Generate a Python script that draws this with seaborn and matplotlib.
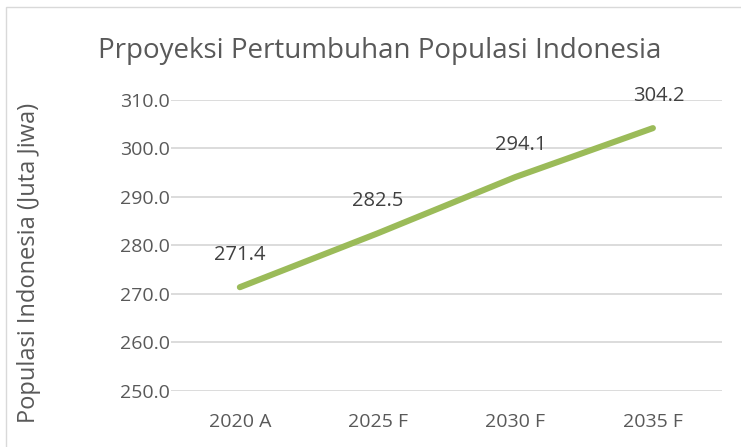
import matplotlib
matplotlib.use('Agg')
import matplotlib.pyplot as plt
import seaborn as sns
import pandas as pd
from matplotlib.patches import Rectangle

tahun = ['2020 A', '2025 F', '2030 F', '2035 F']
populasi = [271.4, 282.5, 294.1, 304.2]
y_ticks = [250, 260, 270, 280, 290, 300, 310]

df = pd.DataFrame({'Tahun': tahun, 'Populasi': populasi})

sns.set_theme(style='white')
plt.rcParams['font.family'] = ['Open Sans', 'DejaVu Sans']
abu = '#595959'

fig = plt.figure(figsize=(7.41, 4.47), dpi=100)
ax = fig.add_axes([0.2308, 0.1253, 0.7432, 0.651])

# bingkai chart ala Excel
fig.patches.append(Rectangle((6 / 741, -0.01), 1, 1 - 7 / 447 + 0.01, transform=fig.transFigure,
                             fill=False, edgecolor='#D9D9D9', linewidth=1))

sns.lineplot(data=df, x='Tahun', y='Populasi', ax=ax, color='#9BBB59', linewidth=4.4,
             solid_capstyle='round', sort=False)

for i, v in enumerate(populasi):
    ax.annotate(f'{v:.1f}', (i, v), xytext=(4 if i > 1 else 0, 23), textcoords='offset points',
                ha='center', va='center', fontsize=14.5, color='#404040')

ax.set_xlim(-0.5, 3.5)
ax.set_ylim(250, 310)
ax.set_yticks(y_ticks)
ax.set_yticklabels([f'{t:.1f}' for t in y_ticks])
ax.yaxis.grid(True, color='#D9D9D9', linewidth=1.3)
ax.set_axisbelow(True)
for s in ax.spines.values():
    s.set_visible(False)
ax.tick_params(axis='both', length=0, labelsize=14, labelcolor=abu)
ax.tick_params(axis='x', pad=16)
ax.tick_params(axis='y', pad=1)
ax.set_xlabel('')
ax.set_ylabel('Populasi Indonesia (Juta Jiwa)', fontsize=17, color=abu)
ax.yaxis.set_label_coords(-0.236, 0.44)

fig.text(0.513, 0.887, 'Prpoyeksi Pertumbuhan Populasi Indonesia', ha='center', va='center',
         fontsize=20, color=abu)

fig.savefig('out.png', dpi=100)
